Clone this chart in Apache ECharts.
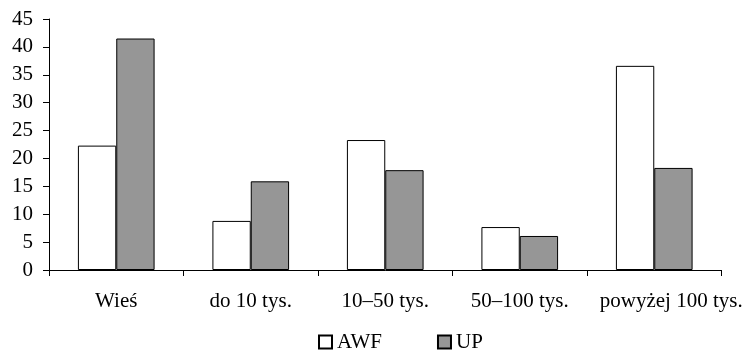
<!DOCTYPE html>
<html>
<head>
<meta charset="utf-8">
<script src="https://cdn.jsdelivr.net/npm/echarts@6/dist/echarts.min.js"></script>
<style>
  html, body { margin: 0; padding: 0; background: #fff; }
  #chart { width: 746px; height: 350px; }
</style>
</head>
<body>
<div id="chart"></div>
<script>
// Place of residence categories and percentages for each group
const categories = ['Wieś', 'do 10 tys.', '10–50 tys.', '50–100 tys.', 'powyżej 100 tys.'];
const awfValues = [22.3, 8.8, 23.3, 7.7, 36.6];
const upValues = [41.5, 15.9, 17.9, 6.1, 18.3];
const seriesNames = ['AWF', 'UP'];

const FONT = '"Liberation Serif", "Times New Roman", serif';

// The last, longest label is nudged right so it sits clear of its neighbour
const categoryData = categories.map((name, i) =>
  i === categories.length - 1
    ? { value: name, textStyle: { padding: [0, 0, 0, 34] } }
    : name
);

const chart = echarts.init(document.getElementById('chart'), null, { renderer: 'canvas' });

chart.setOption({
  animation: false,
  backgroundColor: '#ffffff',
  textStyle: { fontFamily: FONT, color: '#000' },
  grid: { left: 49, right: 24.5, top: 19, bottom: 80, containLabel: false },
  legend: {
    data: seriesNames,
    left: 318,
    top: 331,
    padding: 0,
    itemWidth: 13,
    itemHeight: 13,
    itemGap: 55,
    icon: 'rect',
    textStyle: { fontFamily: FONT, fontSize: 21, lineHeight: 22, color: '#000' }
  },
  xAxis: {
    type: 'category',
    data: categoryData,
    axisLine: { lineStyle: { color: '#000', width: 1 } },
    axisTick: { show: true, length: 6, lineStyle: { color: '#000' }, alignWithLabel: false },
    axisLabel: { fontFamily: FONT, fontSize: 21, color: '#000', margin: 21, interval: 0 },
    splitLine: { show: false }
  },
  yAxis: {
    type: 'value',
    min: 0,
    max: 45,
    interval: 5,
    axisLine: { show: true, lineStyle: { color: '#000', width: 1 } },
    axisTick: { show: true, length: 6, lineStyle: { color: '#000' } },
    axisLabel: { fontFamily: FONT, fontSize: 21, color: '#000', margin: 16 },
    splitLine: { show: false }
  },
  series: [
    {
      name: seriesNames[0],
      type: 'bar',
      data: awfValues,
      barGap: '0%',
      barCategoryGap: '43%',
      itemStyle: { color: '#ffffff', borderColor: '#000', borderWidth: 1 }
    },
    {
      name: seriesNames[1],
      type: 'bar',
      data: upValues,
      itemStyle: { color: '#969696', borderColor: '#000', borderWidth: 1 }
    }
  ]
});
</script>
</body>
</html>
